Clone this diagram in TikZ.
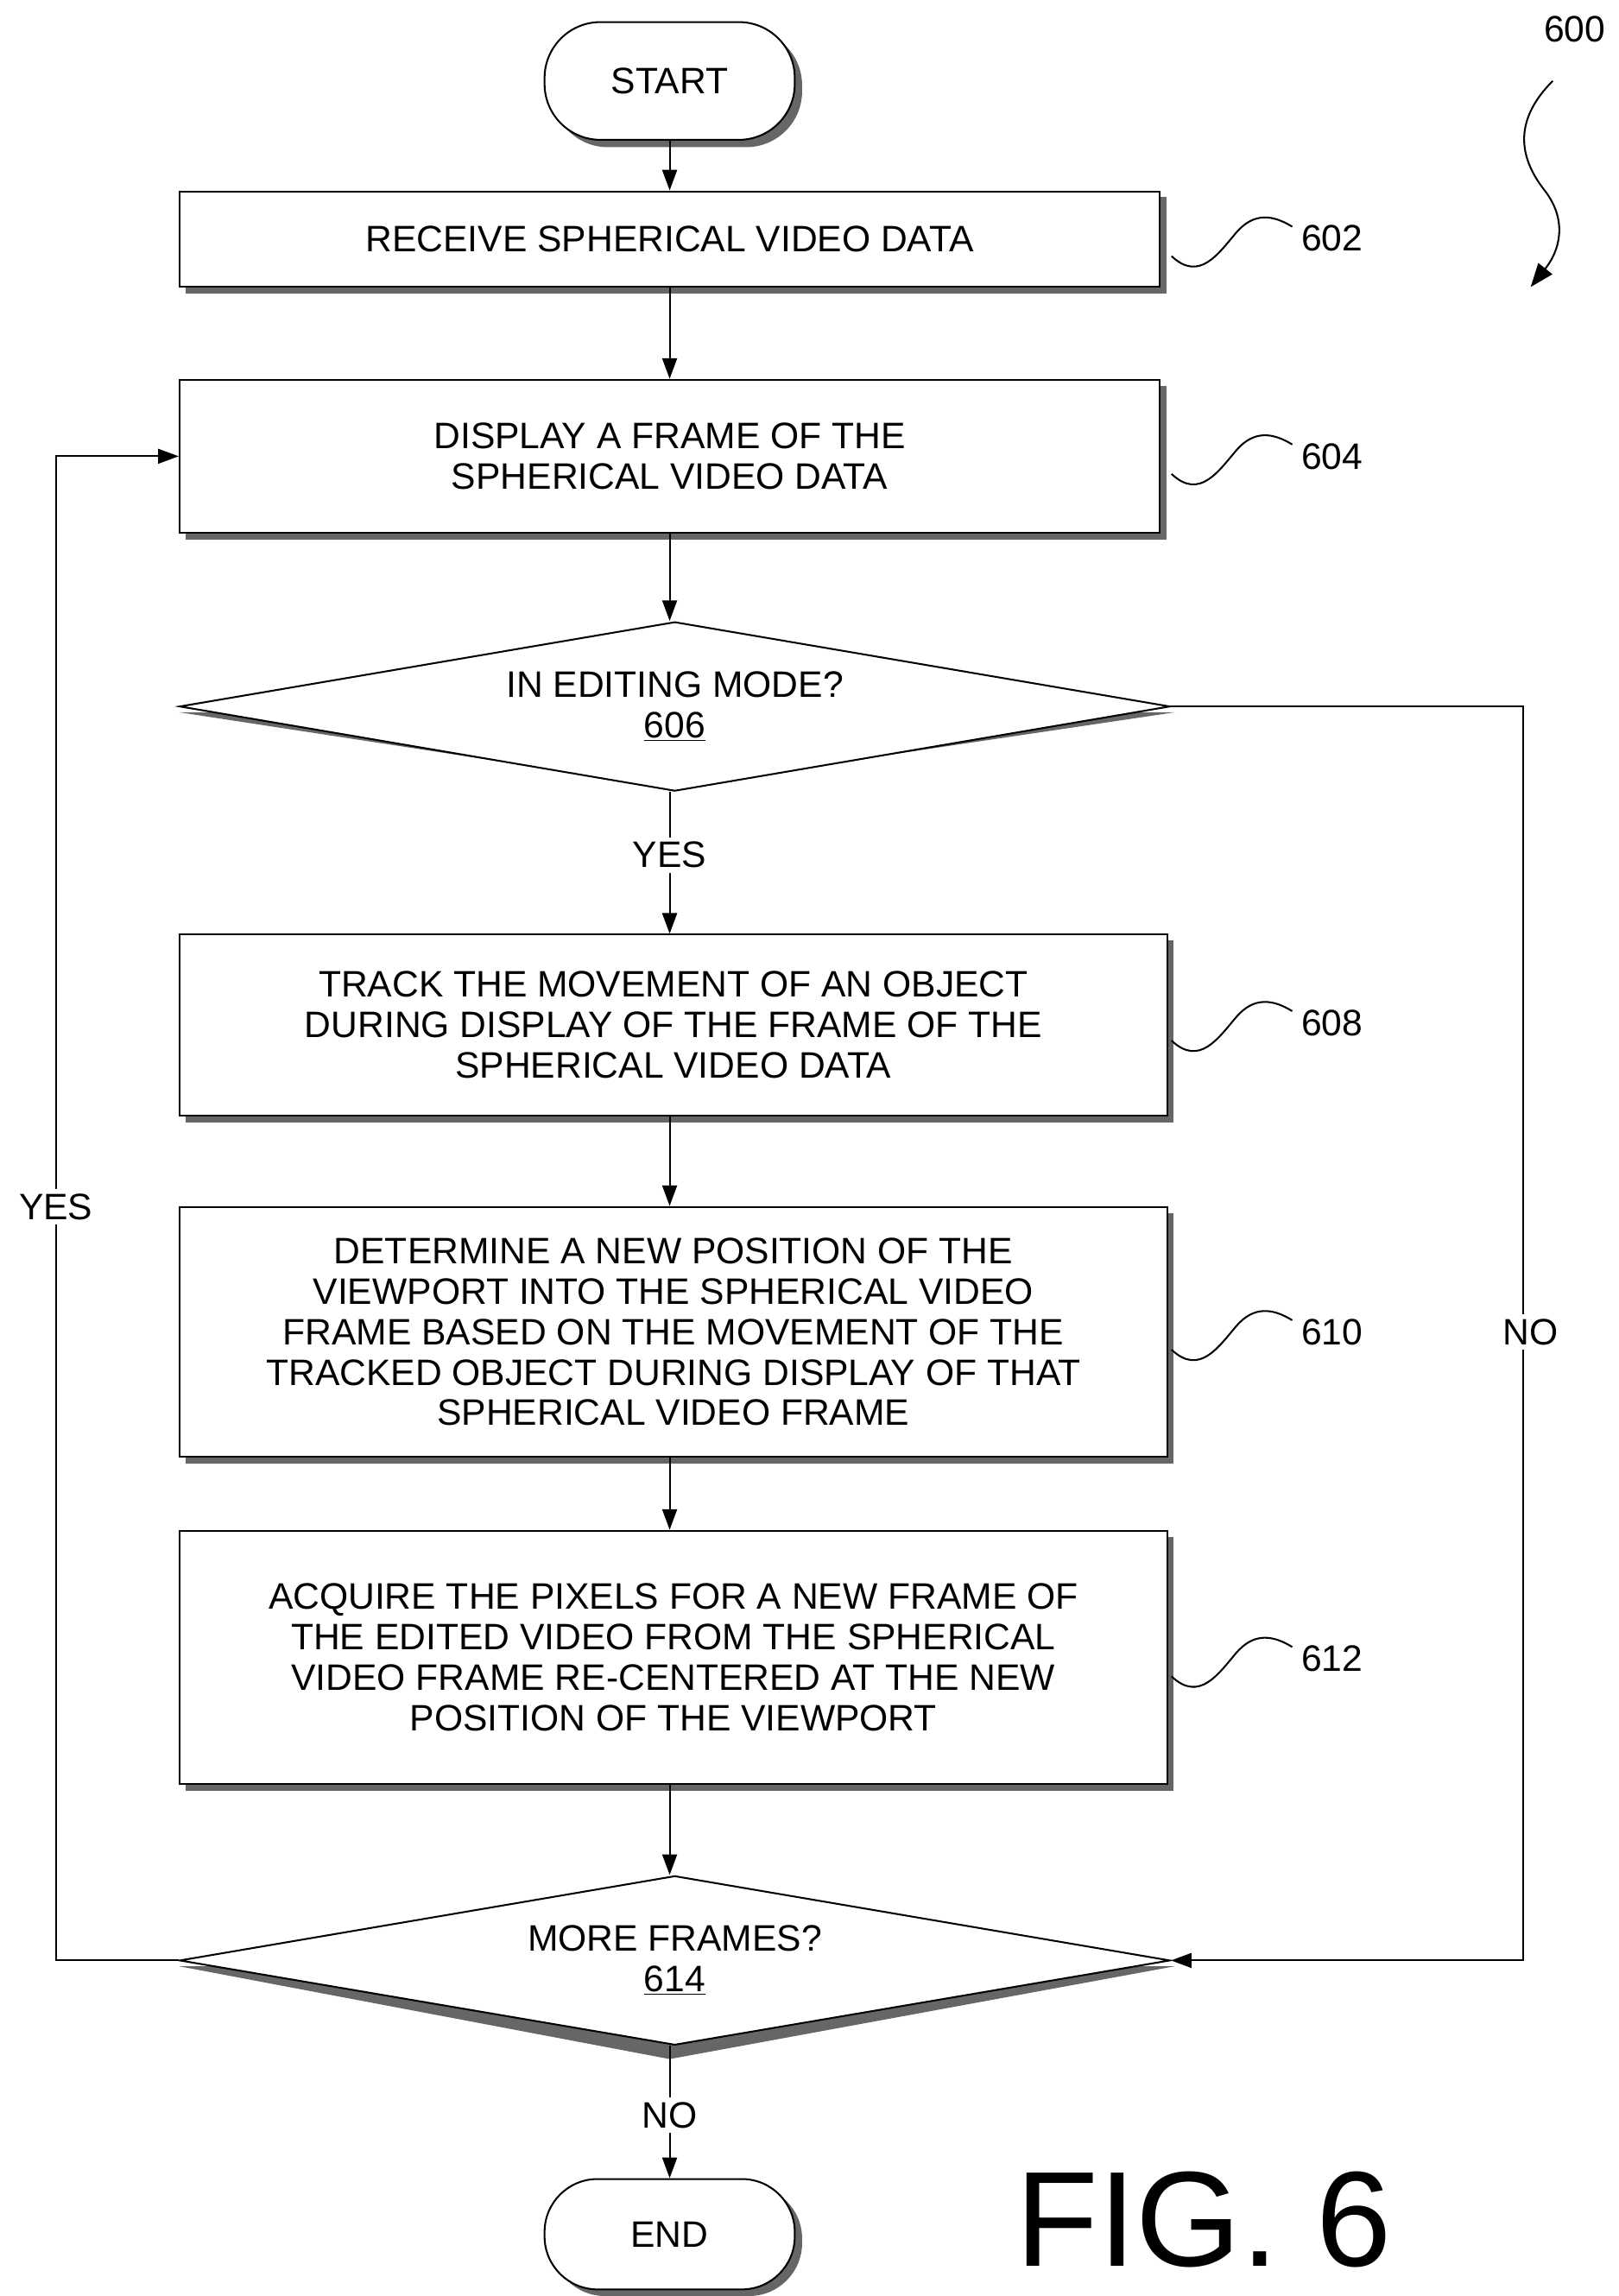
\documentclass[tikz,border=0pt]{standalone}
\usepackage{fontspec}
\setmainfont{Liberation Sans}
\usetikzlibrary{shapes.geometric,arrows.meta}
\begin{document}
\begin{tikzpicture}[x=1pt,y=-1pt,
  every node/.style={font=\fontsize{25}{27.5}\selectfont},
  shad/.style={line width=5pt,gray!80!black},
  box/.style={draw,line width=1.2pt,fill=white,minimum width=666pt,align=center,inner sep=0pt},
  dia/.style={draw,line width=1.2pt,fill=white,diamond,aspect=5.85,minimum width=673pt,minimum height=115pt,inner sep=0pt,align=center},
  arr/.style={line width=1.2pt,-{Triangle[length=14pt,width=10pt]}},
  sq/.style={line width=1.2pt},
  lab/.style={font=\fontsize{25}{27}\selectfont}]
\useasboundingbox (0,0) rectangle (1100,1560);
% shadows
\foreach \a/\b/\c/\d in {122/130/788/195, 122/258/788/362, 122/635/793/758, 122/820/793/990, 122/1040/793/1212}{
  \draw[shad] (\a+4,\d+2) -- (\c+2,\d+2) -- (\c+2,\b+4);}
\fill[gray!80!black,rounded corners=38pt] (375,20) rectangle (545,100);
\fill[gray!80!black,rounded corners=36pt] (375,1485) rectangle (545,1560);
\fill[gray!80!black] (122,484) -- (455,535) -- (798,484) -- cycle;
\fill[gray!80!black] (122,1336) -- (455,1399) -- (798,1336) -- cycle;
% nodes
\node[draw,line width=1.2pt,fill=white,rounded corners=38pt,minimum width=170pt,minimum height=80pt] (start) at (455,55) {START};
\node[box,minimum height=65pt] (b602) at (455,162.5) {RECEIVE SPHERICAL VIDEO DATA};
\node[box,minimum height=104pt] (b604) at (455,310) {DISPLAY A FRAME OF THE\\SPHERICAL VIDEO DATA};
\node[dia] (d606) at (458.5,480) {IN EDITING MODE?\\\underline{606}};
\node[box,minimum width=671pt,minimum height=123pt] (b608) at (457.5,696.5) {TRACK THE MOVEMENT OF AN OBJECT\\DURING DISPLAY OF THE FRAME OF THE\\SPHERICAL VIDEO DATA};
\node[box,minimum width=671pt,minimum height=170pt] (b610) at (457.5,905) {DETERMINE A NEW POSITION OF THE\\VIEWPORT INTO THE SPHERICAL VIDEO\\FRAME BASED ON THE MOVEMENT OF THE\\TRACKED OBJECT DURING DISPLAY OF THAT\\SPHERICAL VIDEO FRAME};
\node[box,minimum width=671pt,minimum height=172pt] (b612) at (457.5,1126) {ACQUIRE THE PIXELS FOR A NEW FRAME OF\\THE EDITED VIDEO FROM THE SPHERICAL\\VIDEO FRAME RE-CENTERED AT THE NEW\\POSITION OF THE VIEWPORT};
\node[dia] (d614) at (458.5,1332) {MORE FRAMES?\\\underline{614}};
\node[draw,line width=1.2pt,fill=white,rounded corners=36pt,minimum width=170pt,minimum height=75pt] (end) at (455,1518) {END};
% arrows
\draw[arr] (start) -- (b602);
\draw[arr] (b602) -- (b604);
\draw[arr] (b604) -- (d606.north -| b604.south);
\draw[arr] (d606.south -| b604.south) -- (b608.north -| b604.south);
\draw[arr] (b608.south -| b604.south) -- (b610.north -| b604.south);
\draw[arr] (b610.south -| b604.south) -- (b612.north -| b604.south);
\draw[arr] (b612.south -| b604.south) -- (d614.north -| b604.south);
\draw[arr] (d614.south -| b604.south) -- (end);
\coordinate (l1) at (38,1332); \coordinate (l2) at (38,310);
\draw[arr] (d614.west) -- (l1) -- (l2) -- (b604.west);
\coordinate (r1) at (1035,480); \coordinate (r2) at (1035,1332);
\draw[arr] (d606.east) -- (r1) -- (r2) -- (d614.east);
\node[lab,fill=white] (yes1) at (455,581) {YES};
\node[lab,fill=white] (no1) at (455,1437) {NO};
\node[lab,fill=white] (yes2) at (38,820) {YES};
\node[lab,fill=white] (no2) at (1040,905) {NO};
% reference labels
\foreach \y/\t in {162/602,310/604,695/608,905/610,1127/612}{
  \node[lab] at (905,\y) {\t};
  \draw[sq] (796,\y+12) .. controls (815,\y+30) and (828,\y+10) .. (840,\y-4) .. controls (852,\y-18) and (865,\y-16) .. (878,\y-8);}
\node[lab] (n600) at (1070,20) {600};
\coordinate (a600) at (1040,195);
\draw[line width=1.2pt,-{Triangle[length=16pt,width=12pt]}] (1055,55) .. controls (1030,80) and (1030,105) .. (1050,130) .. controls (1065,150) and (1060,170) .. (a600);
\node[font=\fontsize{92}{100}\selectfont] (fig) at (818,1508) {FIG. 6};
\end{tikzpicture}
\end{document}
